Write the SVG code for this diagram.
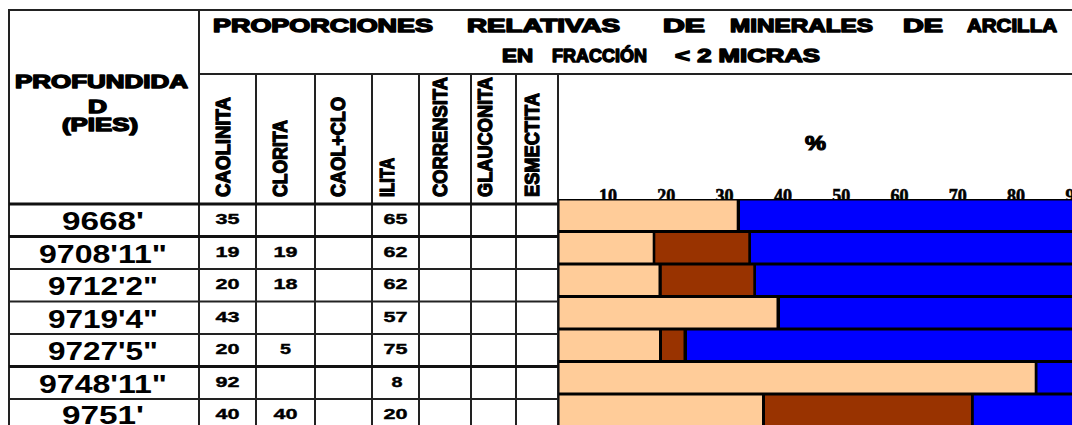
<svg xmlns="http://www.w3.org/2000/svg" width="1072" height="425" viewBox="0 0 1072 425">
<style>
.ln{stroke:#222;stroke-width:2;fill:none}
.lt{stroke:#111;stroke-width:3;fill:none}
.hd{font-family:"Liberation Sans",Arial,sans-serif;font-weight:bold;font-size:18px;fill:#000;stroke:#000;stroke-width:1.4;stroke-linejoin:round}
.vl{font-family:"Liberation Sans",Arial,sans-serif;font-weight:bold;font-size:20px;fill:#000;stroke:#000;stroke-width:1.3;stroke-linejoin:round}
.dp{font-family:"Liberation Sans",Arial,sans-serif;font-weight:bold;font-size:25px;fill:#000;text-anchor:middle}
.nm{font-family:"Liberation Sans",Arial,sans-serif;font-weight:bold;font-size:15px;fill:#000;text-anchor:middle;stroke:#000;stroke-width:0.4}
.ax{font-family:"Liberation Serif","Times New Roman",serif;font-weight:bold;font-size:18px;fill:#000;text-anchor:middle;stroke:#000;stroke-width:0.6}
.ka{fill:#FFCC99}
.il{fill:#993300}
.bl{fill:#0000FF}
</style>
<rect x="0" y="0" width="1072" height="425" fill="#fff"/>

<g id="grid">
  <line class="ln" x1="9" y1="10" x2="1072" y2="10"/>
  <line class="ln" x1="9" y1="9" x2="9" y2="425"/>
  <line class="ln" x1="199" y1="10" x2="199" y2="425"/>
  <line class="ln" x1="199" y1="74" x2="1072" y2="74"/>
  <line class="ln" x1="256" y1="74" x2="256" y2="425"/>
  <line class="ln" x1="315" y1="74" x2="315" y2="425"/>
  <line class="ln" x1="372" y1="74" x2="372" y2="425"/>
  <line class="ln" x1="419" y1="74" x2="419" y2="425"/>
  <line class="ln" x1="471" y1="74" x2="471" y2="425"/>
  <line class="ln" x1="516" y1="74" x2="516" y2="425"/>
  <line class="ln" x1="558" y1="74" x2="558" y2="425"/>
  <line class="lt" x1="9" y1="204" x2="558" y2="204"/>
  <line class="lt" x1="9" y1="236.5" x2="558" y2="236.5"/>
  <line class="ln" x1="9" y1="269" x2="558" y2="269"/>
  <line class="ln" x1="9" y1="301.5" x2="558" y2="301.5"/>
  <line class="ln" x1="9" y1="334" x2="558" y2="334"/>
  <line class="lt" x1="9" y1="366.5" x2="558" y2="366.5"/>
  <line class="ln" x1="9" y1="399" x2="558" y2="399"/>
</g>

<g id="title">
  <text class="hd" x="213" y="32.3" textLength="220" lengthAdjust="spacingAndGlyphs">PROPORCIONES</text>
  <text class="hd" x="467" y="32.3" textLength="153" lengthAdjust="spacingAndGlyphs">RELATIVAS</text>
  <text class="hd" x="663" y="32.3" textLength="42" lengthAdjust="spacingAndGlyphs">DE</text>
  <text class="hd" x="730" y="32.3" textLength="143" lengthAdjust="spacingAndGlyphs">MINERALES</text>
  <text class="hd" x="903" y="32.3" textLength="40" lengthAdjust="spacingAndGlyphs">DE</text>
  <text class="hd" x="967" y="32.3" textLength="90" lengthAdjust="spacingAndGlyphs">ARCILLA</text>
  <text class="hd" x="502" y="62" textLength="31" lengthAdjust="spacingAndGlyphs">EN</text>
  <text class="hd" x="552" y="62" textLength="95" lengthAdjust="spacingAndGlyphs">FRACCIÓN</text>
  <text class="hd" x="675" y="62" textLength="145" lengthAdjust="spacingAndGlyphs">&lt; 2 MICRAS</text>
</g>

<g id="depth-header">
  <text class="hd" x="15" y="88" textLength="173" lengthAdjust="spacingAndGlyphs">PROFUNDIDA</text>
  <text class="hd" x="88" y="113" textLength="19" lengthAdjust="spacingAndGlyphs">D</text>
  <text class="hd" x="62" y="131" textLength="76" lengthAdjust="spacingAndGlyphs">(PIES)</text>
</g>

<g id="mineral-headers">
  <text class="vl" transform="translate(230,197) rotate(-90)" textLength="100" lengthAdjust="spacingAndGlyphs">CAOLINITA</text>
  <text class="vl" transform="translate(287,197) rotate(-90)" textLength="77" lengthAdjust="spacingAndGlyphs">CLORITA</text>
  <text class="vl" transform="translate(344.5,197) rotate(-90)" textLength="100" lengthAdjust="spacingAndGlyphs">CAOL+CLO</text>
  <text class="vl" transform="translate(394,197) rotate(-90)" textLength="39" lengthAdjust="spacingAndGlyphs">ILITA</text>
  <text class="vl" transform="translate(446.5,197) rotate(-90)" textLength="120" lengthAdjust="spacingAndGlyphs">CORRENSITA</text>
  <text class="vl" transform="translate(492,197) rotate(-90)" textLength="120" lengthAdjust="spacingAndGlyphs">GLAUCONITA</text>
  <text class="vl" transform="translate(538.5,197) rotate(-90)" textLength="104" lengthAdjust="spacingAndGlyphs">ESMECTITA</text>
</g>

<g id="axis">
  <text x="805" y="150" textLength="21" lengthAdjust="spacingAndGlyphs" style="font-family:'Liberation Sans',Arial,sans-serif;font-weight:bold;font-size:20px;stroke:#000;stroke-width:1.2">%</text>
  <text class="ax" x="608" y="202">10</text>
  <text class="ax" x="666.3" y="202">20</text>
  <text class="ax" x="724.6" y="202">30</text>
  <text class="ax" x="782.9" y="202">40</text>
  <text class="ax" x="841.2" y="202">50</text>
  <text class="ax" x="899.5" y="202">60</text>
  <text class="ax" x="957.8" y="202">70</text>
  <text class="ax" x="1016" y="202">80</text>
  <text class="ax" x="1074.4" y="202">90</text>
</g>

<g id="row1">
  <text class="dp" x="103" y="230" textLength="82" lengthAdjust="spacingAndGlyphs">9668'</text>
  <text class="nm" x="227.5" y="224" textLength="24" lengthAdjust="spacingAndGlyphs">35</text>
  <text class="nm" x="395.5" y="224" textLength="24" lengthAdjust="spacingAndGlyphs">65</text>
</g>
<g id="row2">
  <text class="dp" x="103" y="262.5" textLength="128" lengthAdjust="spacingAndGlyphs">9708'11"</text>
  <text class="nm" x="227.5" y="256.5" textLength="24" lengthAdjust="spacingAndGlyphs">19</text>
  <text class="nm" x="285.5" y="256.5" textLength="24" lengthAdjust="spacingAndGlyphs">19</text>
  <text class="nm" x="395.5" y="256.5" textLength="24" lengthAdjust="spacingAndGlyphs">62</text>
</g>
<g id="row3">
  <text class="dp" x="103" y="295" textLength="110" lengthAdjust="spacingAndGlyphs">9712'2"</text>
  <text class="nm" x="227.5" y="289" textLength="24" lengthAdjust="spacingAndGlyphs">20</text>
  <text class="nm" x="285.5" y="289" textLength="24" lengthAdjust="spacingAndGlyphs">18</text>
  <text class="nm" x="395.5" y="289" textLength="24" lengthAdjust="spacingAndGlyphs">62</text>
</g>
<g id="row4">
  <text class="dp" x="103" y="327.5" textLength="110" lengthAdjust="spacingAndGlyphs">9719'4"</text>
  <text class="nm" x="227.5" y="321.5" textLength="24" lengthAdjust="spacingAndGlyphs">43</text>
  <text class="nm" x="395.5" y="321.5" textLength="24" lengthAdjust="spacingAndGlyphs">57</text>
</g>
<g id="row5">
  <text class="dp" x="103" y="360" textLength="110" lengthAdjust="spacingAndGlyphs">9727'5"</text>
  <text class="nm" x="227.5" y="354" textLength="24" lengthAdjust="spacingAndGlyphs">20</text>
  <text class="nm" x="285.5" y="354" textLength="11" lengthAdjust="spacingAndGlyphs">5</text>
  <text class="nm" x="395.5" y="354" textLength="24" lengthAdjust="spacingAndGlyphs">75</text>
</g>
<g id="row6">
  <text class="dp" x="103" y="392.5" textLength="128" lengthAdjust="spacingAndGlyphs">9748'11"</text>
  <text class="nm" x="227.5" y="386.5" textLength="24" lengthAdjust="spacingAndGlyphs">92</text>
  <text class="nm" x="397" y="386.5" textLength="11" lengthAdjust="spacingAndGlyphs">8</text>
</g>
<g id="row7">
  <text class="dp" x="103" y="424" textLength="82" lengthAdjust="spacingAndGlyphs">9751'</text>
  <text class="nm" x="227.5" y="419" textLength="24" lengthAdjust="spacingAndGlyphs">40</text>
  <text class="nm" x="285.5" y="419" textLength="24" lengthAdjust="spacingAndGlyphs">40</text>
  <text class="nm" x="395.5" y="419" textLength="24" lengthAdjust="spacingAndGlyphs">20</text>
</g>

<g id="bars">
  <rect x="558.5" y="199" width="514" height="226" fill="#000"/>
  <rect class="ka" x="559.5" y="200.5" width="177.2" height="29.5"/>
  <rect class="bl" x="740" y="200.5" width="332" height="29.5"/>

  <rect class="ka" x="559.5" y="233" width="93.2" height="29.5"/>
  <rect class="il" x="655.3" y="233" width="93" height="29.5"/>
  <rect class="bl" x="751" y="233" width="321" height="29.5"/>

  <rect class="ka" x="559.5" y="265.5" width="99" height="29.5"/>
  <rect class="il" x="661.8" y="265.5" width="91.5" height="29.5"/>
  <rect class="bl" x="756" y="265.5" width="316" height="29.5"/>

  <rect class="ka" x="559.5" y="298" width="217" height="29.5"/>
  <rect class="bl" x="780" y="298" width="292" height="29.5"/>

  <rect class="ka" x="559.5" y="330.5" width="99.5" height="29.5"/>
  <rect class="il" x="662" y="330.5" width="21.5" height="29.5"/>
  <rect class="bl" x="687" y="330.5" width="385" height="29.5"/>

  <rect class="ka" x="559.5" y="363" width="475.2" height="29.5"/>
  <rect class="bl" x="1037.5" y="363" width="34.5" height="29.5"/>

  <rect class="ka" x="559.5" y="395.5" width="202.5" height="29.5"/>
  <rect class="il" x="765" y="395.5" width="206" height="29.5"/>
  <rect class="bl" x="973.8" y="395.5" width="98.2" height="29.5"/>
</g>
</svg>
